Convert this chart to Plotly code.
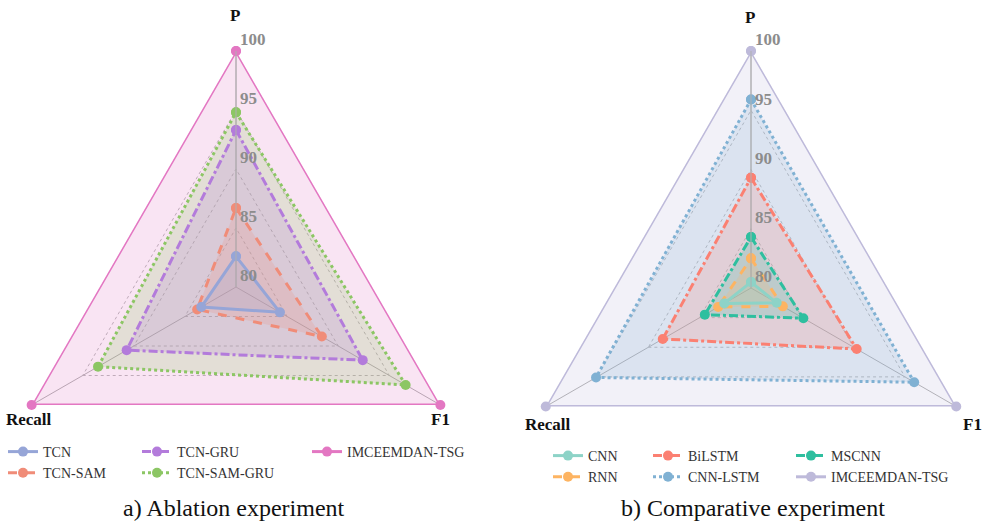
import plotly.graph_objects as go

# ---------------- data ----------------
categories = ["P", "F1", "Recall"]

# a) Ablation experiment
abl_names = ["TCN", "TCN-SAM", "TCN-GRU", "TCN-SAM-GRU", "IMCEEMDAN-TSG"]
abl_tcn = [82.6, 84.3, 83.4]
abl_tcn_sam = [86.7, 88.4, 83.8]
abl_tcn_gru = [93.3, 92.4, 90.7]
abl_tcn_sam_gru = [94.8, 96.6, 93.5]
abl_ours = [100, 100, 100]

# b) Comparative experiment
cmp_names = ["CNN", "RNN", "BiLSTM", "CNN-LSTM", "MSCNN", "IMCEEMDAN-TSG"]
cmp_cnn = [80.5, 82.5, 82.6]
cmp_rnn = [82.5, 83.1, 83.2]
cmp_bilstm = [89.3, 90.3, 88.6]
cmp_cnn_lstm = [95.9, 95.9, 95.1]
cmp_mscnn = [84.3, 85.1, 84.5]
cmp_ours = [100, 100, 100]

radial_ticks = [80, 85, 90, 95, 100]
captions = ["a) Ablation experiment", "b) Comparative experiment"]

# ---------------- styles ----------------
abl_colors = ["#96A5D7", "#F08C78", "#B37BDB", "#8CC664", "#E377C2"]
abl_dash = ["solid", "dash", "dashdot", "dot", "solid"]
abl_legend = ["legend", "legend", "legend2", "legend2", "legend3"]

cmp_colors = ["#8DD3C7", "#FDB462", "#FB8072", "#80B1D3", "#2EBF9F", "#BEBADA"]
cmp_dash = ["solid", "dash", "dashdot", "dot", "dashdot", "solid"]
cmp_legend = ["legend4", "legend4", "legend5", "legend5", "legend6", "legend6"]

SERIF = "Liberation Serif"


def rgba(hex_color, a):
    h = hex_color.lstrip("#")
    r, g, b = int(h[0:2], 16), int(h[2:4], 16), int(h[4:6], 16)
    return f"rgba({r},{g},{b},{a})"


def closed(vals):
    return list(vals) + [vals[0]]


fig = go.Figure()

abl_series = [abl_tcn, abl_tcn_sam, abl_tcn_gru, abl_tcn_sam_gru, abl_ours]
cmp_series = [cmp_cnn, cmp_rnn, cmp_bilstm, cmp_cnn_lstm, cmp_mscnn, cmp_ours]


def add_group(names, series, colors, dashes, legends, subplot, draw_order):
    # translucent areas (no legend entry)
    for i in draw_order:
        fig.add_trace(go.Scatterpolar(
            r=closed(series[i]),
            theta=closed(categories),
            mode="none",
            fill="toself",
            fillcolor=rgba(colors[i], 0.2),
            showlegend=False,
            subplot=subplot,
            hoverinfo="skip",
        ))
    # outlines with markers
    for i in draw_order:
        fig.add_trace(go.Scatterpolar(
            r=closed(series[i]),
            theta=closed(categories),
            mode="lines+markers",
            line=dict(color=colors[i], width=3, dash=dashes[i]),
            marker=dict(color=colors[i], size=10),
            name=names[i],
            legend=legends[i],
            legendgroup=f"{subplot}{i}",
            legendrank=i + 1,
            subplot=subplot,
            hoverinfo="skip",
        ))


add_group(abl_names, abl_series, abl_colors, abl_dash, abl_legend, "polar", [4, 3, 2, 1, 0])
add_group(cmp_names, cmp_series, cmp_colors, cmp_dash, cmp_legend, "polar2", [5, 3, 2, 4, 1, 0])

W, H = 988, 525


def polar_layout(x0, x1, y0, y1):
    return dict(
        domain=dict(x=[x0 / W, x1 / W], y=[(H - y1) / H, (H - y0) / H]),
        gridshape="linear",
        bgcolor="rgba(0,0,0,0)",
        angularaxis=dict(
            rotation=90, direction="clockwise",
            showticklabels=False, ticks="",
            showgrid=True, gridcolor="#B0B0B0", gridwidth=1,
            showline=False,
        ),
        radialaxis=dict(
            range=[80, 100], angle=90, tickangle=90,
            tickvals=radial_ticks, ticktext=[f"{v}<br> " for v in radial_ticks],
            showline=True, linecolor="#B0B0B0", linewidth=1,
            showgrid=True, gridcolor="#B8B8B8", gridwidth=1, griddash="dot",
            ticks="",
            tickfont=dict(family=SERIF, size=17, color="#8C8C8C", weight="bold"),
        ),
    )


legend_common = dict(
    orientation="v", bgcolor="rgba(0,0,0,0)", borderwidth=0,
    font=dict(family=SERIF, size=14, color="#333333"),
    xanchor="left", yanchor="top", tracegroupgap=0, itemwidth=30,
)


def leg(xpx, ypx):
    d = dict(legend_common)
    d.update(x=xpx / W, y=(H - ypx) / H)
    return d


annotations = []
for x, y, t in [(235, 16, "P"), (440, 419, "F1"), (29, 419, "Recall"),
                (750, 17, "P"), (972, 424, "F1"), (548, 424, "Recall")]:
    annotations.append(dict(x=x / W, y=(H - y) / H, xref="paper", yref="paper",
                            text=t, showarrow=False, xanchor="center", yanchor="middle",
                            font=dict(family=SERIF, size=17, color="#111111", weight="bold")))
for x, t in [(234, captions[0]), (753, captions[1])]:
    annotations.append(dict(x=x / W, y=(H - 508) / H, xref="paper", yref="paper",
                            text=t, showarrow=False, xanchor="center", yanchor="middle",
                            font=dict(family=SERIF, size=24, color="#111111")))

fig.update_layout(
    width=W, height=H,
    margin=dict(l=0, r=0, t=0, b=0),
    paper_bgcolor="white", plot_bgcolor="white",
    polar=polar_layout(0, 472, 51, 523),
    polar2=polar_layout(514, 988, 51, 525),
    legend=leg(3, 436),
    legend2=leg(137, 436),
    legend3=leg(307, 436),
    legend4=leg(548, 440),
    legend5=leg(648, 440),
    legend6=leg(791, 440),
    annotations=annotations,
    showlegend=True,
)

fig.write_html(
    "out.html",
    config={"displayModeBar": False},
    post_script="document.body.style.margin='0';document.body.style.overflow='hidden';",
)
